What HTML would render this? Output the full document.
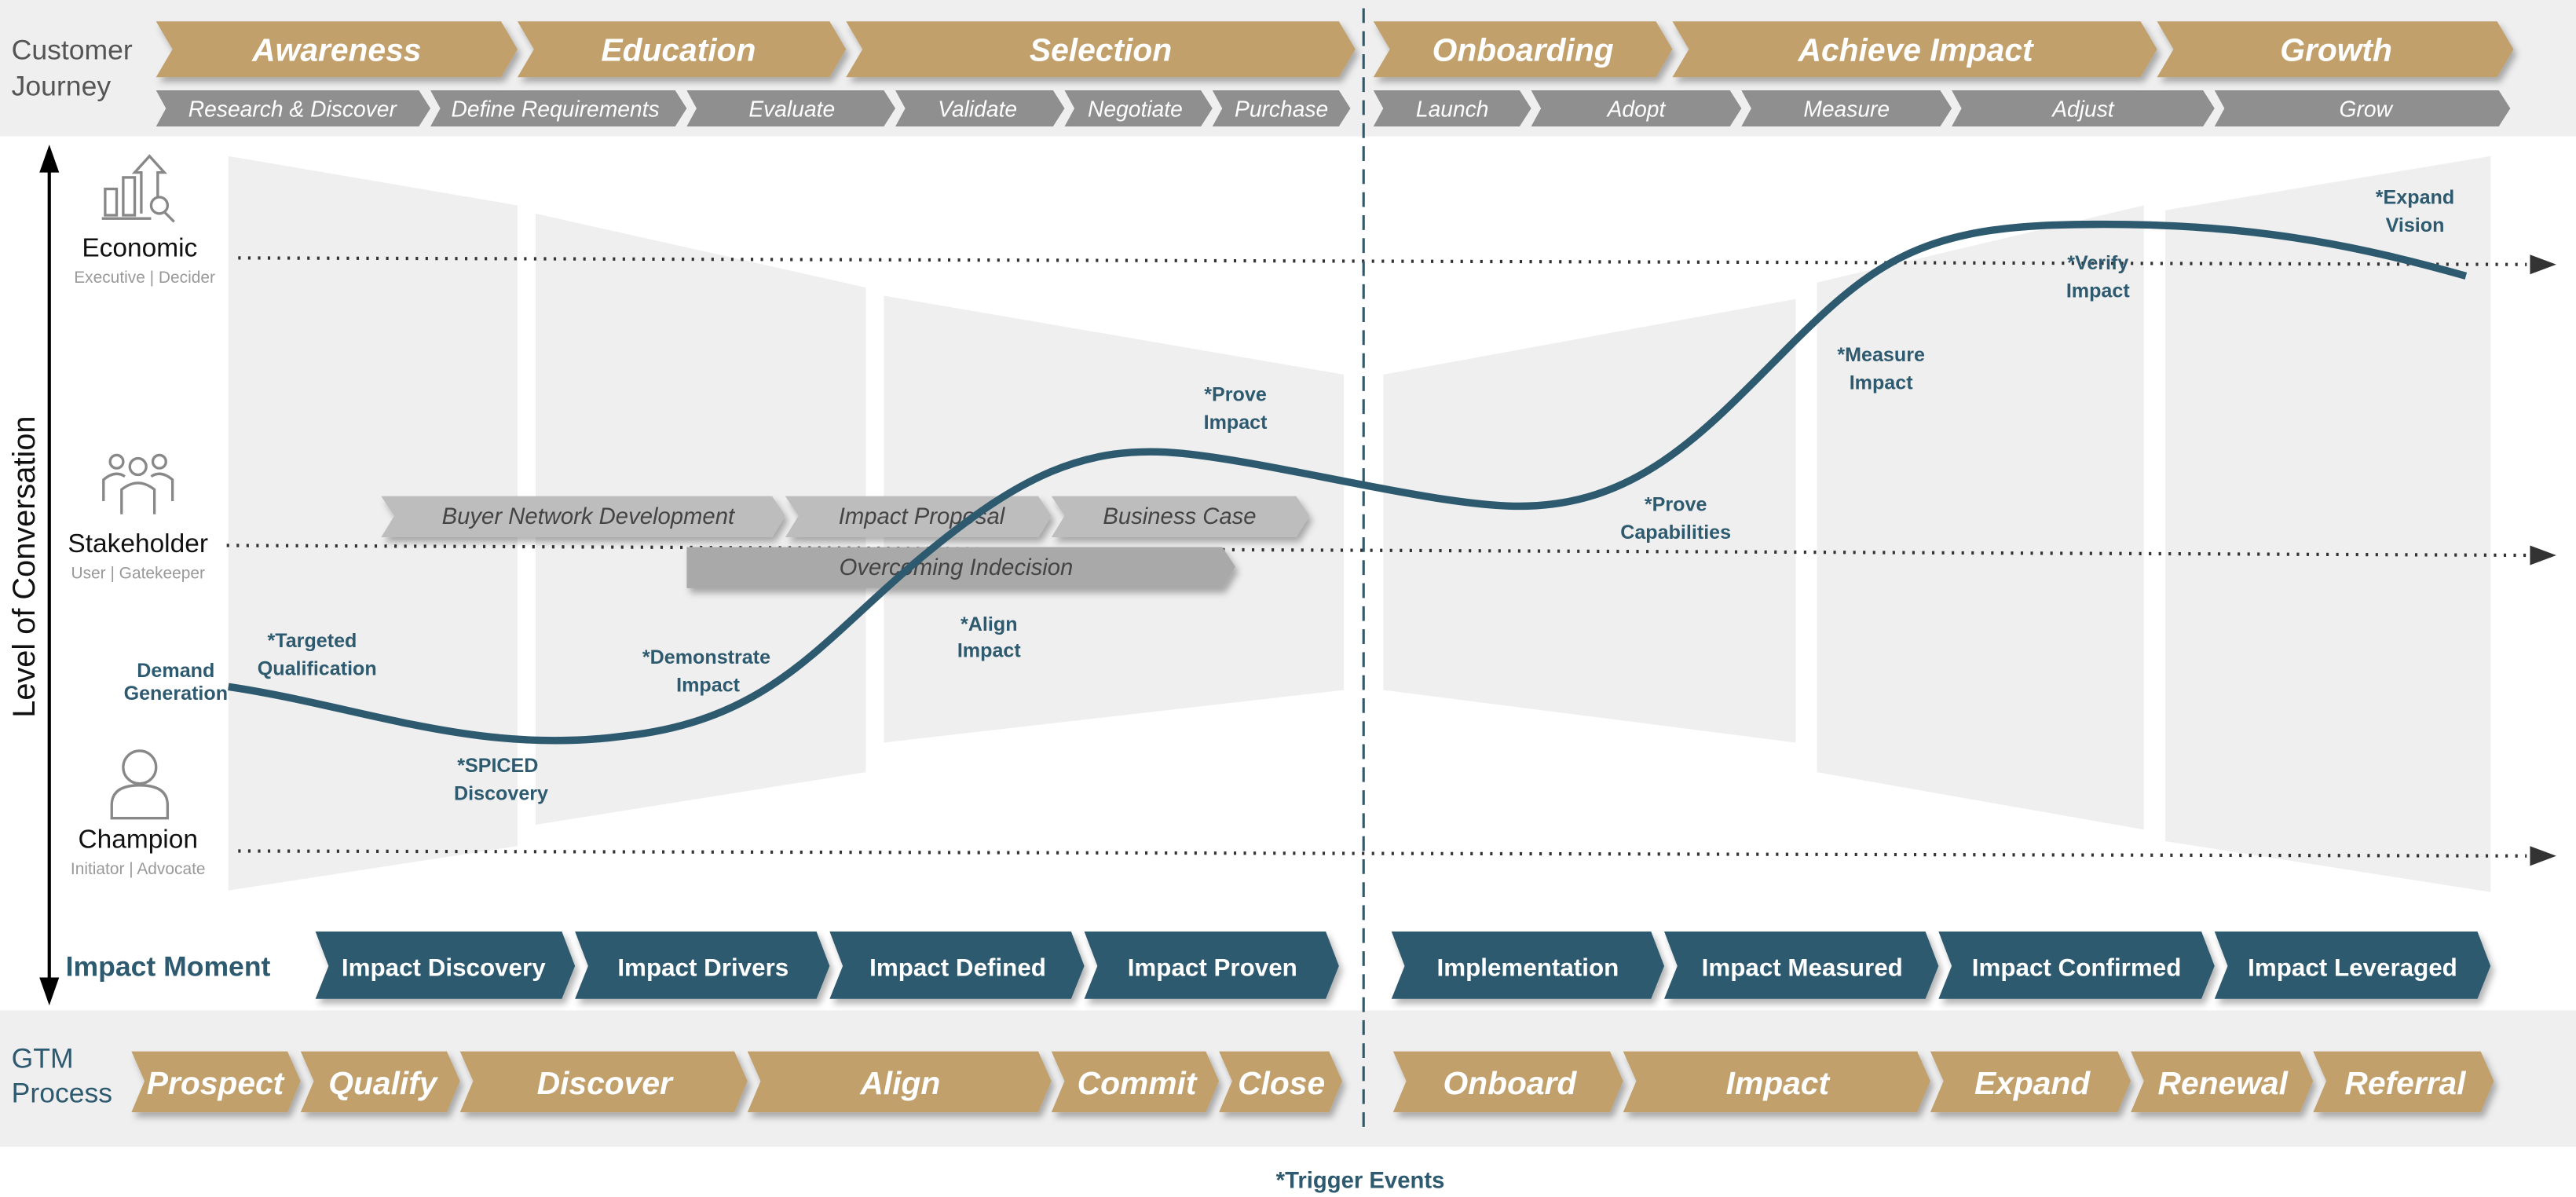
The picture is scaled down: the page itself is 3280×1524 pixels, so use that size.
<!DOCTYPE html>
<html><head><meta charset="utf-8"><style>
html,body{margin:0;padding:0;background:#fff}
svg{display:block}
text{font-family:"Liberation Sans",sans-serif}
.g{fill:#c1a06c}.gt{fill:#fff;font-weight:bold;font-style:italic;font-size:19.5px;text-anchor:middle}
.s{fill:#8f8f8f}.st{fill:#fff;font-style:italic;font-size:13.5px;text-anchor:middle}
.b{fill:#2e5a70}.bt{fill:#fff;font-weight:bold;font-size:15px;text-anchor:middle}
.lg{fill:#bdbdbd}.lt{fill:#444;font-style:italic;font-size:14px;text-anchor:middle}
.tz{fill:#efefef}
.ev{fill:#2e5a70;font-weight:bold;font-size:12px;text-anchor:middle}
.rl{fill:#111;font-size:16px;text-anchor:middle}
.rs{fill:#999;font-size:10px;text-anchor:middle}
</style></head><body>
<svg width="3280" height="1524" viewBox="0 0 1568 728.6" preserveAspectRatio="none" xmlns="http://www.w3.org/2000/svg">
<defs><filter id="sh" x="-5%" y="-20%" width="110%" height="150%"><feDropShadow dx="2" dy="3" stdDeviation="2" flood-color="#000" flood-opacity="0.3"/></filter></defs>
<rect x="0" y="0" width="1568" height="83" fill="#efefef"/>
<rect x="0" y="615" width="1568" height="83" fill="#efefef"/>
<text x="7" y="36" font-size="17" fill="#555">Customer</text>
<text x="7" y="58" font-size="17" fill="#555">Journey</text>
<text x="7" y="650" font-size="17" fill="#2e5a70">GTM</text>
<text x="7" y="671" font-size="17" fill="#2e5a70">Process</text>

<polygon class="tz" points="139,95 315,125 315,515 139,542"/>
<polygon class="tz" points="326,130 527,175 527,470 326,502"/>
<polygon class="tz" points="538,180 818,228 818,420 538,452"/>
<polygon class="tz" points="842,228 1093,182 1093,452 842,420"/>
<polygon class="tz" points="1106,172 1305,125 1305,505 1106,470"/>
<polygon class="tz" points="1318,128 1516,95 1516,543 1318,512"/>

<g filter="url(#sh)">
<polygon class="g" points="95,13 305,13 315,30 305,47 95,47 105,30"/>
<polygon class="g" points="315,13 505,13 515,30 505,47 315,47 325,30"/>
<polygon class="g" points="515,13 815,13 825,30 815,47 515,47 525,30"/>
<polygon class="g" points="836,13 1008,13 1018,30 1008,47 836,47 846,30"/>
<polygon class="g" points="1018,13 1303,13 1313,30 1303,47 1018,47 1028,30"/>
<polygon class="g" points="1313,13 1520,13 1530,30 1520,47 1313,47 1323,30"/>
</g>
<text class="gt" x="205" y="37">Awareness</text>
<text class="gt" x="413" y="37">Education</text>
<text class="gt" x="670" y="37">Selection</text>
<text class="gt" x="927" y="37">Onboarding</text>
<text class="gt" x="1166" y="37">Achieve Impact</text>
<text class="gt" x="1422" y="37">Growth</text>

<polygon class="s" points="95,55 255,55 262,66 255,77 95,77 101,66"/>
<polygon class="s" points="262,55 411,55 418,66 411,77 262,77 268,66"/>
<polygon class="s" points="418,55 538,55 545,66 538,77 418,77 424,66"/>
<polygon class="s" points="545,55 641,55 648,66 641,77 545,77 551,66"/>
<polygon class="s" points="648,55 731,55 738,66 731,77 648,77 654,66"/>
<polygon class="s" points="738,55 815,55 822,66 815,77 738,77 744,66"/>
<polygon class="s" points="836,55 925,55 932,66 925,77 836,77 842,66"/>
<polygon class="s" points="932,55 1053,55 1060,66 1053,77 932,77 938,66"/>
<polygon class="s" points="1060,55 1181,55 1188,66 1181,77 1060,77 1066,66"/>
<polygon class="s" points="1188,55 1341,55 1348,66 1341,77 1188,77 1194,66"/>
<polygon class="s" points="1348,55 1521,55 1528,66 1521,77 1348,77 1354,66"/>
<text class="st" x="178" y="71">Research &amp; Discover</text>
<text class="st" x="338" y="71">Define Requirements</text>
<text class="st" x="482" y="71">Evaluate</text>
<text class="st" x="595" y="71">Validate</text>
<text class="st" x="691" y="71">Negotiate</text>
<text class="st" x="780" y="71">Purchase</text>
<text class="st" x="884" y="71">Launch</text>
<text class="st" x="996" y="71">Adopt</text>
<text class="st" x="1124" y="71">Measure</text>
<text class="st" x="1268" y="71">Adjust</text>
<text class="st" x="1440" y="71">Grow</text>

<line x1="30" y1="100" x2="30" y2="600" stroke="#000" stroke-width="2"/>
<polygon points="30,88 24,105 36,105" fill="#000"/>
<polygon points="30,612 24,595 36,595" fill="#000"/>
<text x="0" y="0" font-size="19" fill="#111" text-anchor="middle" transform="translate(21,345) rotate(-90)">Level of Conversation</text>

<g stroke="#333" stroke-width="2" stroke-dasharray="1.5,4.5">
<line x1="145" y1="157" x2="1538" y2="161"/>
<line x1="138" y1="332" x2="1538" y2="338"/>
<line x1="145" y1="518" x2="1538" y2="521"/>
</g>
<polygon points="1556,161 1540,155 1540,167" fill="#333"/>
<polygon points="1556,338 1540,332 1540,344" fill="#333"/>
<polygon points="1556,521 1540,515 1540,527" fill="#333"/>

<line x1="830" y1="5" x2="830" y2="690" stroke="#2e5a70" stroke-width="1.5" stroke-dasharray="9,5"/>

<g fill="none" stroke="#888" stroke-width="1.6">
<rect x="64" y="115" width="7" height="16"/><rect x="75" y="108" width="7" height="23"/>
<path d="M86,130 V105 H82 L91,95 L100,105 H96 V120"/>
<line x1="62" y1="133" x2="92" y2="133"/>
<circle cx="97" cy="125" r="5"/><line x1="100" y1="129" x2="106" y2="135"/>
<circle cx="84" cy="284" r="5"/><circle cx="71" cy="281" r="4"/><circle cx="97" cy="281" r="4"/>
<path d="M74,313 V298 Q84,290 94,298 V313"/><path d="M63,305 V292 Q70,286 76,290"/><path d="M105,305 V292 Q98,286 92,290"/>
<circle cx="85" cy="467" r="10"/><path d="M68,498 V490 Q68,478 85,478 Q102,478 102,490 V498 Z"/>
</g>
<text class="rl" x="85" y="156">Economic</text><text class="rs" x="88" y="172">Executive | Decider</text>
<text class="rl" x="84" y="336">Stakeholder</text><text class="rs" x="84" y="352">User | Gatekeeper</text>
<text class="rl" x="84" y="516">Champion</text><text class="rs" x="84" y="532">Initiator | Advocate</text>

<g filter="url(#sh)">
<polygon class="lg" points="232,302 470,302 478,314 470,327 232,327 240,314"/>
<polygon class="lg" points="478,302 632,302 640,314 632,327 478,327 486,314"/>
<polygon class="lg" points="640,302 789,302 797,314 789,327 640,327 648,314"/>
<polygon fill="#a9a9a9" points="418,333 744,333 752,345 744,358 418,358 418,345"/>
</g>
<text class="lt" x="358" y="319">Buyer Network Development</text>
<text class="lt" x="561" y="319">Impact Proposal</text>
<text class="lt" x="718" y="319">Business Case</text>
<text class="lt" x="582" y="350">Overcoming Indecision</text>

<path d="M139,418 C220,430 290,460 380,448 C470,438 500,390 560,340 C620,290 660,270 720,276 C780,282 880,310 930,308 C1000,306 1040,260 1090,210 C1140,160 1170,140 1250,137 C1350,134 1420,145 1501,168" fill="none" stroke="#2e5a70" stroke-width="4.5"/>

<text class="ev" font-size="10" x="107" y="412">Demand</text><text class="ev" font-size="10" x="107" y="426">Generation</text>
<text class="ev" x="190" y="394">*Targeted</text><text class="ev" x="193" y="411">Qualification</text>
<text class="ev" x="303" y="470">*SPICED</text><text class="ev" x="305" y="487">Discovery</text>
<text class="ev" x="430" y="404">*Demonstrate</text><text class="ev" x="431" y="421">Impact</text>
<text class="ev" x="602" y="384">*Align</text><text class="ev" x="602" y="400">Impact</text>
<text class="ev" x="752" y="244">*Prove</text><text class="ev" x="752" y="261">Impact</text>
<text class="ev" x="1020" y="311">*Prove</text><text class="ev" x="1020" y="328">Capabilities</text>
<text class="ev" x="1145" y="220">*Measure</text><text class="ev" x="1145" y="237">Impact</text>
<text class="ev" x="1277" y="164">*Verify</text><text class="ev" x="1277" y="181">Impact</text>
<text class="ev" x="1470" y="124">*Expand</text><text class="ev" x="1470" y="141">Vision</text>

<text x="40" y="594" font-size="17" font-weight="bold" fill="#2e5a70">Impact Moment</text>
<g filter="url(#sh)">
<polygon class="b" points="192,567 342,567 350,588 342,608 192,608 200,588"/>
<polygon class="b" points="350,567 497,567 505,588 497,608 350,608 358,588"/>
<polygon class="b" points="505,567 652,567 660,588 652,608 505,608 513,588"/>
<polygon class="b" points="660,567 807,567 815,588 807,608 660,608 668,588"/>
<polygon class="b" points="847,567 1005,567 1013,588 1005,608 847,608 855,588"/>
<polygon class="b" points="1013,567 1172,567 1180,588 1172,608 1013,608 1021,588"/>
<polygon class="b" points="1180,567 1340,567 1348,588 1340,608 1180,608 1188,588"/>
<polygon class="b" points="1348,567 1508,567 1516,588 1508,608 1348,608 1356,588"/>
</g>
<text class="bt" x="270" y="594">Impact Discovery</text>
<text class="bt" x="428" y="594">Impact Drivers</text>
<text class="bt" x="583" y="594">Impact Defined</text>
<text class="bt" x="738" y="594">Impact Proven</text>
<text class="bt" x="930" y="594">Implementation</text>
<text class="bt" x="1097" y="594">Impact Measured</text>
<text class="bt" x="1264" y="594">Impact Confirmed</text>
<text class="bt" x="1432" y="594">Impact Leveraged</text>

<g filter="url(#sh)">
<polygon class="g" points="80,640 175,640 183,658 175,677 80,677 88,658"/>
<polygon class="g" points="183,640 272,640 280,658 272,677 183,677 191,658"/>
<polygon class="g" points="280,640 447,640 455,658 447,677 280,677 288,658"/>
<polygon class="g" points="455,640 632,640 640,658 632,677 455,677 463,658"/>
<polygon class="g" points="640,640 734,640 742,658 734,677 640,677 648,658"/>
<polygon class="g" points="742,640 809,640 817,658 809,677 742,677 750,658"/>
<polygon class="g" points="848,640 980,640 988,658 980,677 848,677 856,658"/>
<polygon class="g" points="988,640 1167,640 1175,658 1167,677 988,677 996,658"/>
<polygon class="g" points="1175,640 1289,640 1297,658 1289,677 1175,677 1183,658"/>
<polygon class="g" points="1297,640 1400,640 1408,658 1400,677 1297,677 1305,658"/>
<polygon class="g" points="1408,640 1510,640 1518,658 1510,677 1408,677 1416,658"/>
</g>
<text class="gt" x="131" y="666">Prospect</text>
<text class="gt" x="233" y="666">Qualify</text>
<text class="gt" x="368" y="666">Discover</text>
<text class="gt" x="548" y="666">Align</text>
<text class="gt" x="692" y="666">Commit</text>
<text class="gt" x="780" y="666" font-size="18">Close</text>
<text class="gt" x="919" y="666">Onboard</text>
<text class="gt" x="1082" y="666">Impact</text>
<text class="gt" x="1237" y="666">Expand</text>
<text class="gt" x="1353" y="666">Renewal</text>
<text class="gt" x="1464" y="666">Referral</text>

<text x="828" y="723" font-size="14" font-weight="bold" fill="#2e5a70" text-anchor="middle">*Trigger Events</text>
</svg>
</body></html>
